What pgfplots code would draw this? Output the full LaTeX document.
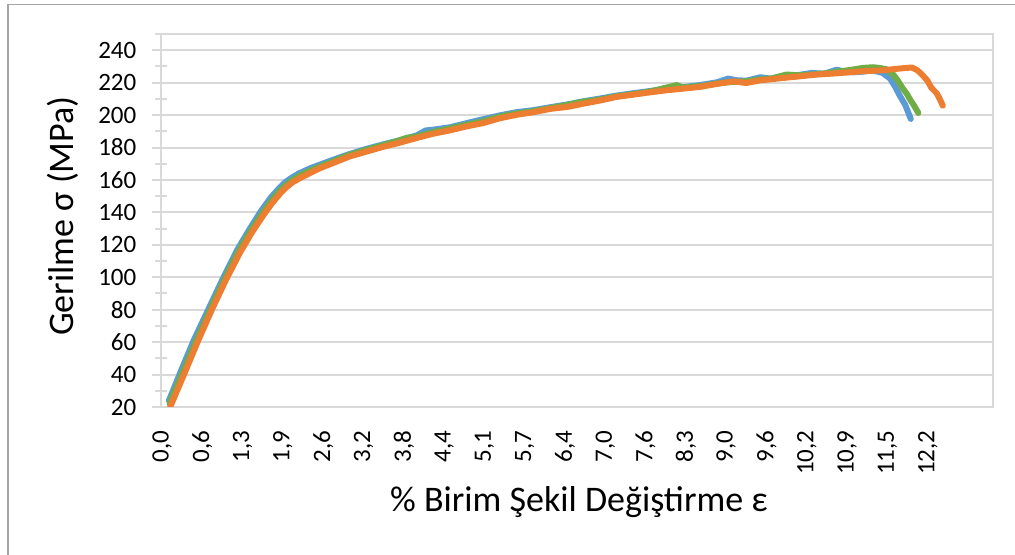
\documentclass[border=0pt]{standalone}
\usepackage{fontspec}
\setmainfont{Carlito}
\usepackage{pgfplots}
\pgfplotsset{compat=1.18}
\definecolor{sblue}{HTML}{5B9BD5}
\definecolor{sorange}{HTML}{ED7D31}
\definecolor{sgreen}{HTML}{70AD47}
\definecolor{gridgray}{HTML}{D9D9D9}
\definecolor{framegray}{HTML}{A6A6A6}
\begin{document}
\begin{tikzpicture}
\useasboundingbox (-80.5pt,-74pt) rectangle (427pt,203.5pt);
\draw[framegray, line width=0.8pt] (-76.6pt,-90pt) -- (-76.6pt,201.2pt) -- (440pt,201.2pt);
\begin{axis}[
    at={(0pt,0pt)}, anchor=south west,
    scale only axis, width=416pt, height=186.5pt,
    xmin=-0.016, xmax=13.24, ymin=20, ymax=250,
    ytick={20,40,...,240},
    xtick={0,0.642,1.284,1.926,2.568,3.211,3.853,4.495,5.137,5.779,6.421,7.063,7.705,8.347,8.989,9.632,10.274,10.916,11.558,12.2},
    xticklabels={{0,0},{0,6},{1,3},{1,9},{2,6},{3,2},{3,8},{4,4},{5,1},{5,7},{6,4},{7,0},{7,6},{8,3},{9,0},{9,6},{10,2},{10,9},{11,5},{12,2}},
    ymajorgrids,
    grid style={gridgray, line width=1pt},
    axis line style={gridgray, line width=1pt},
    tick style={gridgray, line width=1pt},
    tick align=outside, tick pos=left,
    major tick length=4.5pt,
    xtick style={draw=none},
    extra y ticks={30,50,...,250},
    extra y tick labels={},
    extra y tick style={grid=none, tick align=center, major tick length=6pt},
    /pgf/number format/assume math mode=true,
    yticklabel style={font=\fontsize{12.5}{15}\selectfont, xshift=-4.3pt},
    xticklabel style={font=\fontsize{12.5}{15}\selectfont, yshift=-3.8pt, rotate=90, anchor=east},
    xlabel={\% Birim Şekil Değiştirme ε},
    ylabel={Gerilme σ (MPa)},
    label style={font=\fontsize{18}{22}\selectfont},
    xlabel style={at={(axis description cs:0.5024,-0.2806)}, anchor=base},
    ylabel style={at={(axis description cs:-0.1052,0.512)}, anchor=base},
    every axis plot/.append style={line width=3pt, line join=round, line cap=round, mark=none},
]
% numune 1
\addplot[sblue] coordinates {
    (0.11,24) (0.31,43) (0.51,61.5) (0.76,82) (0.98,100) (1.20,117) (1.40,130)
    (1.58,141) (1.74,149.5) (1.88,155.5) (1.96,158.5) (2.05,161) (2.17,163.8)
    (2.36,167.2) (2.52,169.5) (2.73,172.5) (2.99,176) (3.26,179.2) (3.53,182)
    (3.79,184.5) (4.06,187.5) (4.20,190.5) (4.32,191) (4.59,192.5) (4.85,195)
    (5.12,197.5) (5.38,199.8) (5.65,201.8) (5.91,203) (6.18,204.8) (6.45,206.5)
    (6.71,208.5) (6.98,210.2) (7.24,212) (7.51,213.5) (7.77,214.8) (8.04,216)
    (8.30,217.2) (8.57,218.5) (8.84,220.2) (9.02,222.5) (9.15,221.5) (9.31,221.2)
    (9.53,223.3) (9.70,222.5) (9.90,223.5) (10.16,224.8) (10.35,226) (10.55,225.5)
    (10.75,228) (10.90,226.5) (11.01,226.4) (11.17,226.8) (11.33,227.5) (11.48,226)
    (11.60,222.5) (11.68,217.5) (11.76,211.6) (11.84,206.4) (11.93,197.6)
};
% numune 3
\addplot[sgreen] coordinates {
    (0.12,22) (0.33,41.5) (0.54,60.5) (0.78,81) (1.00,99) (1.22,116) (1.42,129)
    (1.60,139.5) (1.75,147.5) (1.88,153.5) (1.98,157) (2.08,160) (2.20,162.8)
    (2.36,165.8) (2.52,168.3) (2.73,171.5) (2.99,175.5) (3.26,178.5) (3.53,181.5)
    (3.79,184.5) (3.90,186) (4.06,186.8) (4.32,189.5) (4.59,191.8) (4.85,194)
    (5.12,196.2) (5.38,199) (5.65,201) (5.91,202.3) (6.18,204.3) (6.45,206.2)
    (6.71,208.2) (6.98,209.6) (7.24,211.5) (7.51,213) (7.77,214.5) (8.04,217)
    (8.20,218.5) (8.30,217) (8.57,217.8) (8.84,219.5) (9.10,220.5) (9.31,220.8)
    (9.53,222) (9.70,222.5) (9.95,225) (10.16,224.5) (10.43,225.2) (10.69,226.3)
    (10.96,227.8) (11.17,229.1) (11.33,229.5) (11.44,229) (11.54,228.3) (11.65,225)
    (11.72,221.5) (11.80,216.5) (11.86,213.5) (11.92,209.5) (11.98,206) (12.05,201.3)
};
% numune 2
\addplot[sorange] coordinates {
    (0.13,20) (0.35,40) (0.56,59.5) (0.80,80.5) (1.02,98.5) (1.24,115) (1.43,127.5)
    (1.61,138) (1.75,145.5) (1.88,151.5) (1.98,155.5) (2.08,158.5) (2.20,161.2)
    (2.36,164.3) (2.52,167.3) (2.73,170.5) (2.99,174.5) (3.26,177.5) (3.53,180.5)
    (3.79,183) (4.06,185.9) (4.32,188.5) (4.59,190.6) (4.85,193) (5.12,195.1)
    (5.38,198) (5.65,200.2) (5.91,201.7) (6.18,203.8) (6.45,205) (6.71,207)
    (6.98,209) (7.24,211.2) (7.51,212.6) (7.77,214) (8.04,215.3) (8.30,216.3)
    (8.57,217.4) (8.84,219.2) (9.10,220.8) (9.31,219.8) (9.53,221.4) (9.90,222.9)
    (10.16,223.9) (10.43,225) (10.69,225.6) (10.96,226.4) (11.23,227.2) (11.49,227.6)
    (11.70,228.5) (11.86,229.1) (11.95,229.3) (12.04,227.5) (12.12,224.5) (12.19,221.5)
    (12.26,216.7) (12.34,213.6) (12.39,210) (12.44,205.8)
};
\end{axis}
\end{tikzpicture}
\end{document}
